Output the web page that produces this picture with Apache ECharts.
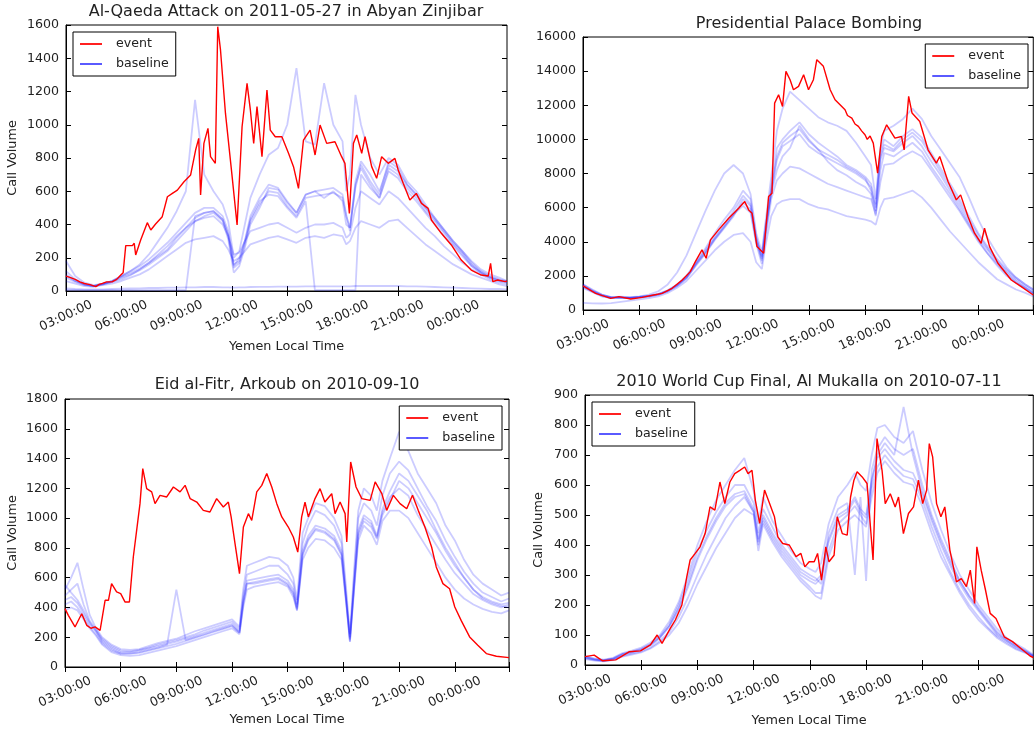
<!DOCTYPE html>
<html><head><meta charset="utf-8">
<script src="https://cdn.jsdelivr.net/npm/echarts@6/dist/echarts.min.js"></script>
<style>html,body{margin:0;padding:0;background:#fff}#c{width:1036px;height:732px}</style>
</head><body><div id="c"></div>
<script>
// ---------------- DATA ----------------
const titles = ['Al-Qaeda Attack on 2011-05-27 in Abyan Zinjibar', 'Presidential Palace Bombing',
  'Eid al-Fitr, Arkoub on 2010-09-10', '2010 World Cup Final, Al Mukalla on 2010-07-11'];
const xTickLabels = ['03:00:00','06:00:00','09:00:00','12:00:00','15:00:00','18:00:00','21:00:00','00:00:00'];
const yMax = [1600, 16000, 1800, 900];
const yStep = [200, 2000, 200, 100];
const xName = 'Yemen Local Time';
const yName = 'Call Volume';

// event series: [hours since midnight of event day, call volume]
const event1 = [[3.0,90],[3.25,80],[3.5,70],[3.75,55],[4.0,45],[4.3,38],[4.62,26],[4.8,40],[4.98,46],[5.2,55],[5.52,56],[5.75,70],[5.97,96],[6.1,110],[6.24,273],[6.6,273],[6.7,287],[6.78,217],[7.05,307],[7.41,411],[7.6,367],[7.86,403],[8.22,447],[8.5,567],[8.77,587],[9.04,607],[9.4,657],[9.76,698],[10.03,848],[10.2,918],[10.3,577],[10.48,888],[10.7,978],[10.84,808],[11.1,768],[11.23,1590],[11.38,1450],[11.65,1068],[12.0,700],[12.28,397],[12.55,988],[12.82,1249],[13.0,1089],[13.18,888],[13.36,1109],[13.63,808],[13.9,1209],[14.08,968],[14.35,928],[14.71,928],[15.07,828],[15.34,748],[15.61,617],[15.88,908],[16.24,968],[16.51,818],[16.78,998],[17.14,888],[17.59,898],[17.95,808],[18.13,768],[18.37,467],[18.59,888],[18.77,938],[19.04,828],[19.22,928],[19.58,748],[19.85,678],[20.12,808],[20.48,768],[20.84,798],[21.02,728],[21.29,648],[21.65,547],[22.0,587],[22.28,527],[22.64,497],[22.82,427],[23.36,347],[23.9,277],[24.44,186],[24.98,126],[25.52,96],[25.9,90],[26.03,166],[26.15,56],[26.42,66],[26.82,56],[26.92,60]];
const event2 = [[3.0,1408],[3.67,978],[4.47,685],[4.91,782],[5.53,645],[6.14,743],[6.76,880],[7.2,978],[7.73,1271],[8.27,1760],[8.7,2249],[8.97,2836],[9.32,3521],[9.4,3618],[9.54,3032],[9.77,4108],[10.2,4694],[10.74,5379],[11.27,5966],[11.59,6357],[11.8,5868],[11.98,5672],[12.24,3716],[12.6,3325],[12.86,6650],[13.04,6846],[13.18,12127],[13.39,12616],[13.6,11931],[13.78,13985],[14.0,13496],[14.18,12909],[14.45,13105],[14.72,13790],[14.98,12909],[15.24,13496],[15.42,14670],[15.77,14279],[16.13,12909],[16.39,12323],[16.92,11736],[17.05,11400],[17.28,11247],[17.45,10900],[17.63,10758],[17.8,10500],[17.98,10269],[18.1,10000],[18.25,10200],[18.42,9780],[18.65,8020],[18.87,10171],[19.13,10856],[19.57,10073],[19.92,10171],[20.06,9388],[20.3,12518],[20.48,11540],[20.89,11051],[21.33,9388],[21.77,8606],[21.95,8998],[22.39,7531],[22.83,6455],[23.06,6748],[23.45,5477],[23.8,4499],[24.15,3912],[24.33,4792],[24.6,3716],[25.04,2738],[25.75,1760],[26.28,1369],[26.92,880]];
const event3 = [[3.0,392],[3.18,347],[3.54,269],[3.9,358],[4.17,280],[4.4,260],[4.62,269],[4.89,246],[5.16,448],[5.34,448],[5.51,560],[5.78,504],[6.0,493],[6.23,437],[6.47,437],[6.68,739],[6.86,918],[7.04,1097],[7.19,1332],[7.4,1198],[7.67,1176],[7.85,1097],[8.12,1153],[8.48,1142],[8.84,1209],[9.2,1176],[9.47,1220],[9.74,1131],[10.1,1108],[10.45,1052],[10.81,1041],[11.17,1131],[11.53,1075],[11.8,1108],[11.95,1008],[12.16,828],[12.4,627],[12.61,940],[12.88,1030],[13.06,985],[13.33,1176],[13.6,1220],[13.87,1299],[14.14,1209],[14.41,1097],[14.68,1008],[15.03,940],[15.3,873],[15.54,772],[15.75,1008],[15.93,1108],[16.11,1008],[16.47,1131],[16.74,1198],[17.0,1108],[17.37,1164],[17.55,1030],[17.82,1108],[18.09,1030],[18.18,840],[18.39,1377],[18.68,1209],[18.99,1131],[19.44,1119],[19.71,1243],[20.07,1164],[20.33,1052],[20.69,1153],[21.05,1097],[21.41,1063],[21.72,1153],[22.03,1052],[22.39,940],[22.75,806],[23.0,672],[23.36,560],[23.72,526],[24.0,403],[24.34,313],[24.8,202],[25.24,146],[25.7,90],[26.24,72],[26.92,63]];
const event4 = [[3.0,28],[3.49,33],[3.94,14],[4.64,17],[5.35,44],[5.96,47],[6.49,67],[6.85,100],[7.11,72],[7.55,122],[7.82,150],[8.17,200],[8.43,294],[8.61,350],[8.88,372],[9.14,394],[9.41,438],[9.67,527],[9.93,516],[10.2,610],[10.46,538],[10.73,610],[10.99,638],[11.26,649],[11.52,660],[11.7,638],[11.91,649],[12.09,549],[12.32,472],[12.58,583],[12.85,538],[13.11,494],[13.29,427],[13.55,405],[13.9,400],[14.26,361],[14.52,372],[14.73,327],[14.96,344],[15.23,344],[15.41,372],[15.62,283],[15.85,394],[16.02,344],[16.29,366],[16.46,494],[16.73,438],[16.99,433],[17.17,560],[17.35,616],[17.52,644],[17.79,627],[18.05,605],[18.37,350],[18.58,755],[18.85,649],[19.02,538],[19.29,571],[19.55,527],[19.73,560],[19.99,438],[20.26,505],[20.53,527],[20.79,616],[21.02,538],[21.23,583],[21.37,738],[21.55,694],[21.76,538],[21.99,494],[22.2,527],[22.47,383],[22.82,277],[23.08,288],[23.35,261],[23.56,316],[23.79,205],[23.91,394],[24.14,316],[24.37,250],[24.62,172],[24.93,155],[25.37,94],[25.81,78],[26.26,55],[26.75,30],[26.92,25]];

// baseline days: shared time grid per panel (hours), one array per baseline day
const tB1 = [3,3.5,4,4.5,5,5.5,6,6.5,7,7.5,8,8.5,9,9.5,10,10.5,11,11.5,11.8,12.1,12.4,12.7,13,13.5,14,14.5,15,15.5,16,16.5,17,17.5,18,18.2,18.4,18.7,19,19.5,20,20.5,21,21.5,22,22.5,23,23.5,24,24.5,25,25.5,26,26.5,26.92];
const base1a = [80,55,35,30,45,60,85,110,135,170,210,250,320,380,440,470,480,430,330,140,170,280,420,520,600,590,510,450,560,570,580,590,560,450,380,640,740,640,560,740,700,620,560,480,420,350,280,220,150,110,80,60,55];
const base1b = [60,45,30,25,40,55,80,100,125,160,200,240,300,360,420,450,470,420,310,110,150,260,400,500,620,610,530,470,580,600,560,600,540,400,380,620,760,660,580,780,740,640,580,500,440,370,300,240,170,120,90,70,60];
const base1c = [120,70,40,30,35,45,60,80,100,130,170,210,250,290,310,320,330,300,250,180,200,240,280,300,320,330,310,290,320,330,320,340,330,280,300,380,420,400,380,420,430,380,330,280,240,200,160,130,100,80,60,40,30];
const base1d = [100,60,40,30,40,55,70,95,130,170,220,270,330,380,420,440,450,400,330,220,230,300,360,380,400,410,380,350,380,400,400,410,380,320,340,500,600,560,520,600,560,500,440,380,330,270,220,170,130,100,70,50,40];
const base1e = [15,12,10,10,10,12,14,15,16,18,18,20,20,22,22,24,24,22,22,20,22,22,24,25,25,26,26,26,28,28,28,28,28,28,28,30,30,30,30,30,30,28,28,26,24,22,20,18,16,14,12,12,10];
const base1f = [180,90,50,35,45,60,90,120,160,220,300,380,480,600,1150,700,600,520,420,200,240,400,560,700,820,860,1000,1340,900,880,1250,1000,900,600,700,1180,1000,800,700,800,760,660,600,520,440,370,300,240,180,130,100,80,60];
const base1g = [5,5,5,5,5,5,5,5,5,5,5,5,5,5,450,470,480,430,340,150,200,300,430,540,580,570,500,440,540,5,5,5,5,5,5,5,700,620,560,720,680,600,540,470,400,330,270,210,150,110,80,60,50];
const base1h = [90,60,40,30,45,60,90,120,150,190,240,290,350,410,470,500,500,450,360,160,180,300,450,560,640,620,540,470,580,600,610,620,580,460,360,660,780,700,600,760,720,640,580,500,430,360,290,230,160,115,85,65,55];

const tB2 = [3,3.5,4,4.5,5,5.5,6,6.5,7,7.5,8,8.5,9,9.5,10,10.5,11,11.5,11.9,12.2,12.5,12.7,13,13.3,13.6,14,14.5,15,15.5,16,16.5,17,17.5,18,18.3,18.55,18.8,19,19.5,20,20.5,21,21.5,22,22.5,23,23.5,24,24.5,25,25.5,26,26.5,26.92];
const base2a = [1400,1100,850,720,720,700,750,800,900,1100,1450,1900,2700,3400,4200,4900,5600,6300,5900,4000,2900,4500,6900,8800,9600,9900,10300,9600,9200,8900,8600,8300,8000,7600,7200,5800,8800,9500,9300,9800,10200,9600,8700,7900,7000,6100,5100,4200,3500,2800,2200,1700,1300,1000];
const base2b = [1300,1050,800,700,700,700,730,780,880,1080,1400,1850,2600,3300,4100,4800,5500,6500,6100,4200,3200,5000,6800,8200,9000,9500,10800,10000,9400,8700,8200,7900,7500,7200,6800,5500,8200,9200,9000,9400,9800,9300,8400,7600,6800,5900,5000,4100,3300,2700,2100,1600,1300,1000];
const base2c = [1500,1150,900,750,760,730,780,840,950,1150,1500,2000,2800,3600,4500,5300,6000,7000,6500,4300,3000,4800,7200,9500,10000,10500,11000,10300,9800,9400,9000,8500,8200,7800,7400,6200,9200,10000,9600,10200,10600,10100,9200,8300,7400,6500,5500,4500,3700,3000,2400,1900,1500,1200];
const base2d = [420,390,380,400,480,550,620,700,800,1000,1300,1700,2300,2900,3500,4000,4400,4500,4000,2800,2400,3800,5500,6200,6400,6500,6500,6200,6000,5900,5700,5500,5400,5300,5200,5000,6000,6500,6600,6800,7000,6600,6000,5300,4600,4000,3400,2800,2300,1800,1500,1200,1000,800];
const base2e = [1500,1200,900,760,780,760,800,900,1100,1500,2200,3200,4500,5800,7000,8000,8500,8000,6800,4500,3400,5200,7800,10500,11800,12800,12300,11800,11300,11000,10800,10500,9800,9000,8500,6500,9500,10500,10800,11200,11800,11200,10200,9400,8600,7800,6600,5300,4200,3300,2500,1900,1500,1200];
const base2f = [1350,1080,820,700,720,710,760,820,920,1120,1420,1880,2650,3350,4150,4850,5600,6100,5700,3900,2700,4200,6500,7600,8000,8400,8300,8000,7700,7400,7200,7000,6800,6600,6500,5600,7500,8500,8600,9000,9300,9000,8200,7400,6600,5800,4900,4000,3300,2600,2000,1600,1250,950];
const base2g = [1450,1120,870,740,740,720,770,830,930,1140,1480,1950,2750,3500,4300,5000,5800,6700,6200,4100,3100,4600,7000,9000,9800,10200,10600,9900,9400,9100,8800,8400,8100,7700,7000,6000,9000,9700,9400,10000,10400,9900,9000,8100,7200,6300,5300,4400,3600,2900,2300,1800,1400,1100];

const tB3 = [3,3.33,3.67,4,4.33,4.67,5,5.5,6,6.5,7,7.5,8,8.5,9,9.5,10,10.5,11,11.5,12,12.4,12.6,12.8,13.2,13.6,14,14.5,15,15.3,15.5,15.8,16.1,16.5,17,17.5,17.9,18.15,18.35,18.6,18.8,19.1,19.5,19.8,20.1,20.5,21,21.5,22,22.5,23,23.5,24,24.5,25,25.5,26,26.5,26.92];
const base3a = [450,470,430,360,290,240,180,130,100,100,110,125,140,155,170,190,210,230,250,270,290,240,450,580,590,600,610,620,580,520,400,780,880,950,930,880,780,450,180,600,900,1000,960,870,1040,1140,1200,1150,1020,920,820,720,630,560,490,450,420,400,420];
const base3b = [520,600,700,520,350,260,200,150,120,115,120,140,160,175,190,215,240,260,280,300,320,270,520,680,700,720,740,730,680,600,450,900,1000,1100,1080,1000,880,520,220,700,1050,1200,1150,1050,1250,1400,1580,1450,1300,1200,1100,950,850,720,620,560,520,480,500];
const base3c = [380,400,380,320,260,210,150,100,80,75,80,95,110,125,140,160,180,200,220,240,260,220,400,520,540,550,560,570,540,470,380,720,800,860,850,800,720,420,170,550,850,950,900,820,980,1050,1050,1000,900,800,700,600,520,460,420,390,370,360,380];
const base3d = [480,520,560,420,310,250,190,140,110,105,115,130,150,165,180,200,220,245,265,285,305,255,480,620,640,660,680,680,620,560,420,830,950,1050,1020,950,830,480,200,650,1000,1100,1050,950,1150,1300,1380,1320,1200,1080,980,850,740,640,560,500,470,440,460];
const base3e = [550,500,450,380,300,240,170,120,90,90,100,115,130,150,520,180,200,220,240,260,280,230,420,560,570,580,590,600,560,500,390,750,850,920,900,850,750,440,190,580,880,980,940,860,1020,1120,1250,1200,1100,1000,900,780,680,600,520,460,430,410,400];
const base3f = [420,440,400,340,270,220,160,110,90,90,95,110,125,140,155,175,195,215,235,255,275,230,430,560,560,570,580,590,550,490,380,760,860,930,910,860,760,440,170,580,920,1020,980,880,1060,1180,1300,1250,1150,1050,920,800,700,600,520,470,440,420,430];

const tB4 = [3,3.5,4,4.5,5,5.5,6,6.5,7,7.5,8,8.5,9,9.5,10,10.5,11,11.5,12,12.25,12.5,12.75,13,13.5,14,14.5,15,15.3,15.6,16,16.5,17,17.4,17.7,18,18.3,18.6,19,19.5,20,20.5,21,21.5,22,22.5,23,23.5,24,24.5,25,25.5,26,26.5,26.92];
const base4a = [25,18,15,20,35,42,50,65,90,130,190,270,360,430,490,540,570,580,520,420,500,470,440,390,350,310,290,280,300,420,500,520,560,520,500,620,690,720,680,650,640,570,480,400,330,270,220,180,140,100,80,60,45,30];
const base4b = [30,22,18,24,40,48,58,75,100,145,210,300,400,480,550,600,650,690,580,470,560,520,480,430,380,340,320,310,340,470,560,600,640,600,580,700,790,800,760,740,780,650,540,450,370,300,250,200,160,120,90,70,52,35];
const base4c = [20,15,12,16,28,35,42,55,75,100,140,200,270,330,390,440,490,520,500,380,470,440,410,360,320,280,250,230,220,360,450,480,500,480,460,560,640,680,640,610,600,530,440,360,300,240,190,150,120,90,70,52,40,28];
const base4d = [28,20,16,22,37,45,54,70,95,135,200,285,380,450,510,560,600,600,540,440,520,490,460,400,360,320,300,290,270,440,520,540,300,560,280,650,720,760,720,700,720,600,500,420,350,280,230,190,150,110,85,65,48,32];
const base4e = [26,19,15,21,36,43,52,68,92,128,185,260,350,420,480,530,560,570,510,410,490,460,430,380,340,300,280,270,290,410,490,510,550,510,490,610,700,740,700,860,700,580,490,410,340,280,230,185,145,105,82,62,46,31];
const base4f = [22,16,13,18,30,38,45,58,80,110,160,225,300,370,430,490,530,560,510,400,480,450,420,370,330,290,260,240,240,380,470,500,530,500,470,590,660,700,660,630,620,550,460,380,310,250,200,160,125,95,75,55,42,29];

const events = [event1, event2, event3, event4];
const baseTimes = [tB1, tB2, tB3, tB4];
const baselines = [
  [base1a, base1b, base1c, base1d, base1e, base1f, base1g, base1h],
  [base2a, base2b, base2c, base2d, base2e, base2f, base2g],
  [base3a, base3b, base3c, base3d, base3e, base3f],
  [base4a, base4b, base4c, base4d, base4e, base4f]
];

// ---------------- LAYOUT / STYLE ----------------
const FF = 'DejaVu Sans';
const TXT = '#222';
const grids = [
  {left: 66, top: 25, width: 441, height: 266},
  {left: 583, top: 37, width: 452, height: 273},
  {left: 65, top: 399, width: 444, height: 268},
  {left: 585, top: 395, width: 449, height: 270}
];
const hasNames = [true, false, true, true];
const titlePos = [[286, 4], [809, 16], [287, 377], [809, 374]];
const legendPos = [{left: 73, top: 32}, {right: 8, top: 44}, {right: 534, top: 406}, {left: 592, top: 402}];
const yNameGap = [47, 0, 46, 40];
const xNameGap = [49, 0, 46, 49];

function xFmt(v) {
  const k = (v - 3) / 3;
  if (Math.abs(k - Math.round(k)) > 1e-6) return '';
  return xTickLabels[Math.round(k)] || '';
}

const xAxes = [], yAxes = [], series = [], titleArr = [], legends = [];
grids.forEach((g, i) => {
  g.show = true; g.borderColor = '#000'; g.borderWidth = 1; g.backgroundColor = 'transparent';
  const tick = {show: true, inside: true, length: 5, lineStyle: {color: '#000', width: 1}};
  xAxes.push({
    type: 'value', gridIndex: i, position: 'bottom', min: 3, max: 26.92, interval: 3,
    axisLine: {show: true, onZero: false, lineStyle: {color: '#000', width: 1}},
    axisTick: tick, splitLine: {show: false},
    axisLabel: {rotate: 25, margin: 25, align: 'center', verticalAlign: 'middle',
      fontSize: 12.6, color: TXT, fontFamily: FF, formatter: xFmt, hideOverlap: false},
    name: hasNames[i] ? xName : '', nameLocation: 'middle', nameGap: xNameGap[i],
    nameTextStyle: {fontSize: 12.8, color: TXT, fontFamily: FF}
  });
  xAxes.push({
    type: 'value', gridIndex: i, position: 'top', min: 3, max: 26.92, interval: 3,
    axisLine: {show: false}, axisTick: tick, axisLabel: {show: false}, splitLine: {show: false}
  });
  yAxes.push({
    type: 'value', gridIndex: i, position: 'left', min: 0, max: yMax[i], interval: yStep[i],
    axisLine: {show: true, onZero: false, lineStyle: {color: '#000', width: 1}},
    axisTick: tick, splitLine: {show: false},
    axisLabel: {margin: 7, fontSize: 12.6, color: TXT, fontFamily: FF, formatter: v => String(v)},
    name: hasNames[i] ? yName : '', nameLocation: 'middle', nameGap: yNameGap[i], nameRotate: 90,
    nameTextStyle: {fontSize: 12.8, color: TXT, fontFamily: FF}
  });
  yAxes.push({
    type: 'value', gridIndex: i, position: 'right', min: 0, max: yMax[i], interval: yStep[i],
    axisLine: {show: false}, axisTick: tick, axisLabel: {show: false}, splitLine: {show: false}
  });
  baselines[i].forEach(arr => {
    series.push({
      type: 'line', name: 'baseline', xAxisIndex: 2 * i, yAxisIndex: 2 * i,
      data: baseTimes[i].map((t, k) => [t, arr[k]]),
      showSymbol: false, symbol: 'none', silent: true, z: 2,
      lineStyle: {color: '#0000ff', width: 1.8, opacity: 0.2}, itemStyle: {color: '#0000ff'}
    });
  });
  series.push({
    type: 'line', name: 'event', xAxisIndex: 2 * i, yAxisIndex: 2 * i,
    data: events[i], showSymbol: false, symbol: 'none', silent: true, z: 3,
    lineStyle: {color: '#ff0000', width: 1.4}, itemStyle: {color: '#ff0000'}
  });
  titleArr.push({
    text: titles[i], left: titlePos[i][0], top: titlePos[i][1], textAlign: 'center', padding: 0,
    textStyle: {fontSize: 16, fontWeight: 'normal', color: TXT, fontFamily: FF}
  });
  legends.push(Object.assign({
    orient: 'vertical', borderColor: '#000', borderWidth: 1, borderRadius: 0, backgroundColor: '#fff',
    padding: [5, 7, 5, 7], itemWidth: 22, itemHeight: 2, itemGap: 6, icon: 'rect', selectedMode: false,
    textStyle: {fontFamily: FF, fontSize: 12.6, color: TXT, lineHeight: 14, padding: [0, 0, 0, 9]},
    data: [
      {name: 'event', itemStyle: {color: '#ff2020', opacity: 1}},
      {name: 'baseline', itemStyle: {color: '#5a5aff', opacity: 1}}
    ], z: 10
  }, legendPos[i]));
});

const chart = echarts.init(document.getElementById('c'), null, {renderer: 'canvas'});
chart.setOption({
  animation: false, backgroundColor: '#fff',
  title: titleArr, legend: legends, grid: grids, xAxis: xAxes, yAxis: yAxes, series: series
});
</script></body></html>
